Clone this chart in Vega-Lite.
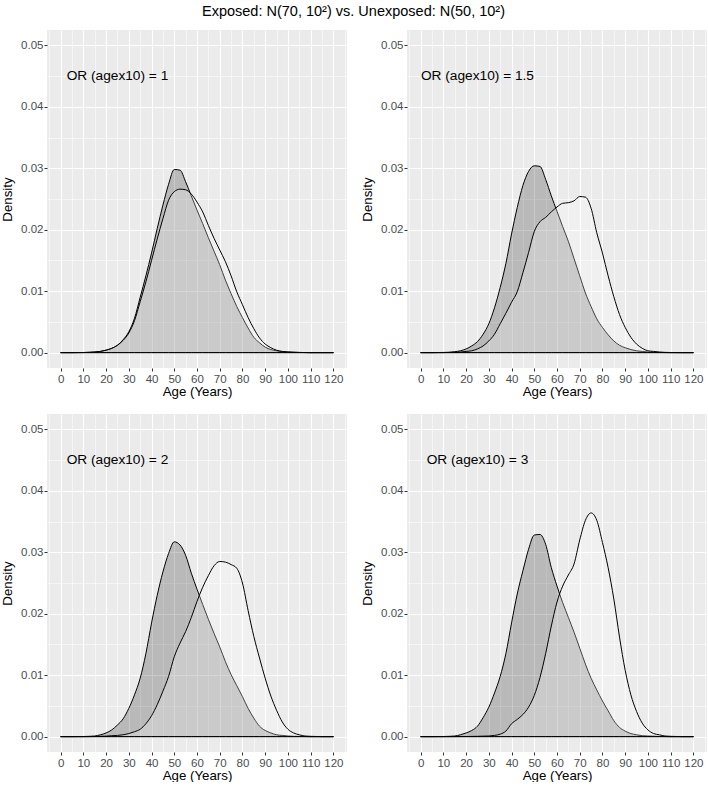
{
  "$schema": "https://vega.github.io/schema/vega-lite/v6.json",
  "padding": {"left": 0, "top": 3, "right": 0, "bottom": 0},
  "background": "white",
  "title": {"text": "Exposed: N(70, 10²) vs. Unexposed: N(50, 10²)", "font": "Liberation Sans", "fontSize": 14.5, "fontWeight": "normal", "color": "black", "anchor": "start", "frame": "group", "dx": 155, "offset": 11},
  "data": {"values": [
    {"p":1,"g":"L","lbl":"OR (agex10) = 1"},
    {"p":1.5,"g":"L","lbl":"OR (agex10) = 1.5"},
    {"p":2,"g":"L","lbl":"OR (agex10) = 2"},
    {"p":3,"g":"L","lbl":"OR (agex10) = 3"},

    {"p":1,"g":"U","a":0,"d":0},{"p":1,"g":"U","a":5,"d":0},{"p":1,"g":"U","a":10,"d":0.00002},{"p":1,"g":"U","a":12.5,"d":0.00005},{"p":1,"g":"U","a":15,"d":0.0001},{"p":1,"g":"U","a":17.5,"d":0.0002},{"p":1,"g":"U","a":20,"d":0.0004},{"p":1,"g":"U","a":22.5,"d":0.0007},{"p":1,"g":"U","a":25,"d":0.0012},{"p":1,"g":"U","a":27.5,"d":0.0021},{"p":1,"g":"U","a":30,"d":0.0034},{"p":1,"g":"U","a":32.5,"d":0.0056},{"p":1,"g":"U","a":35,"d":0.009},{"p":1,"g":"U","a":37.5,"d":0.0125},{"p":1,"g":"U","a":40,"d":0.0162},{"p":1,"g":"U","a":42.5,"d":0.0202},{"p":1,"g":"U","a":45,"d":0.024},{"p":1,"g":"U","a":47.5,"d":0.0274},{"p":1,"g":"U","a":50,"d":0.0298},{"p":1,"g":"U","a":52.5,"d":0.0297},{"p":1,"g":"U","a":55,"d":0.0278},{"p":1,"g":"U","a":57.5,"d":0.0255},{"p":1,"g":"U","a":60,"d":0.0232},{"p":1,"g":"U","a":62.5,"d":0.021},{"p":1,"g":"U","a":65,"d":0.0187},{"p":1,"g":"U","a":67.5,"d":0.0165},{"p":1,"g":"U","a":70,"d":0.0143},{"p":1,"g":"U","a":72.5,"d":0.0118},{"p":1,"g":"U","a":75,"d":0.0096},{"p":1,"g":"U","a":77.5,"d":0.0075},{"p":1,"g":"U","a":80,"d":0.0057},{"p":1,"g":"U","a":82.5,"d":0.004},{"p":1,"g":"U","a":85,"d":0.0025},{"p":1,"g":"U","a":87.5,"d":0.0016},{"p":1,"g":"U","a":90,"d":0.0009},{"p":1,"g":"U","a":92.5,"d":0.0005},{"p":1,"g":"U","a":95,"d":0.0003},{"p":1,"g":"U","a":97.5,"d":0.00015},{"p":1,"g":"U","a":100,"d":0.0001},{"p":1,"g":"U","a":105,"d":0.00003},{"p":1,"g":"U","a":110,"d":0},{"p":1,"g":"U","a":115,"d":0},{"p":1,"g":"U","a":120,"d":0},

    {"p":1,"g":"E","a":0,"d":0},{"p":1,"g":"E","a":5,"d":0},{"p":1,"g":"E","a":10,"d":0.00002},{"p":1,"g":"E","a":12.5,"d":0.00005},{"p":1,"g":"E","a":15,"d":0.0001},{"p":1,"g":"E","a":17.5,"d":0.0002},{"p":1,"g":"E","a":20,"d":0.0004},{"p":1,"g":"E","a":22.5,"d":0.0007},{"p":1,"g":"E","a":25,"d":0.0012},{"p":1,"g":"E","a":27.5,"d":0.002},{"p":1,"g":"E","a":30,"d":0.0032},{"p":1,"g":"E","a":32.5,"d":0.0052},{"p":1,"g":"E","a":35,"d":0.0083},{"p":1,"g":"E","a":37.5,"d":0.0115},{"p":1,"g":"E","a":40,"d":0.015},{"p":1,"g":"E","a":42.5,"d":0.0185},{"p":1,"g":"E","a":45,"d":0.0218},{"p":1,"g":"E","a":47.5,"d":0.0248},{"p":1,"g":"E","a":50,"d":0.0262},{"p":1,"g":"E","a":52.5,"d":0.0266},{"p":1,"g":"E","a":55,"d":0.0265},{"p":1,"g":"E","a":57.5,"d":0.0258},{"p":1,"g":"E","a":60,"d":0.0245},{"p":1,"g":"E","a":62.5,"d":0.0229},{"p":1,"g":"E","a":65,"d":0.0207},{"p":1,"g":"E","a":67.5,"d":0.0186},{"p":1,"g":"E","a":70,"d":0.0167},{"p":1,"g":"E","a":72.5,"d":0.0148},{"p":1,"g":"E","a":75,"d":0.0125},{"p":1,"g":"E","a":77.5,"d":0.0099},{"p":1,"g":"E","a":80,"d":0.0078},{"p":1,"g":"E","a":82.5,"d":0.0057},{"p":1,"g":"E","a":85,"d":0.0039},{"p":1,"g":"E","a":87.5,"d":0.0024},{"p":1,"g":"E","a":90,"d":0.0014},{"p":1,"g":"E","a":92.5,"d":0.0008},{"p":1,"g":"E","a":95,"d":0.0004},{"p":1,"g":"E","a":97.5,"d":0.0002},{"p":1,"g":"E","a":100,"d":0.0001},{"p":1,"g":"E","a":105,"d":0.00003},{"p":1,"g":"E","a":110,"d":0},{"p":1,"g":"E","a":115,"d":0},{"p":1,"g":"E","a":120,"d":0},

    {"p":1.5,"g":"U","a":0,"d":0},{"p":1.5,"g":"U","a":5,"d":0},{"p":1.5,"g":"U","a":10,"d":0.00003},{"p":1.5,"g":"U","a":12.5,"d":0.00006},{"p":1.5,"g":"U","a":15,"d":0.00015},{"p":1.5,"g":"U","a":17.5,"d":0.0003},{"p":1.5,"g":"U","a":20,"d":0.0006},{"p":1.5,"g":"U","a":22.5,"d":0.0011},{"p":1.5,"g":"U","a":25,"d":0.0018},{"p":1.5,"g":"U","a":27.5,"d":0.003},{"p":1.5,"g":"U","a":30,"d":0.0047},{"p":1.5,"g":"U","a":32.5,"d":0.0073},{"p":1.5,"g":"U","a":35,"d":0.0106},{"p":1.5,"g":"U","a":37.5,"d":0.0145},{"p":1.5,"g":"U","a":40,"d":0.0193},{"p":1.5,"g":"U","a":42.5,"d":0.0236},{"p":1.5,"g":"U","a":45,"d":0.0272},{"p":1.5,"g":"U","a":47.5,"d":0.0295},{"p":1.5,"g":"U","a":50,"d":0.0304},{"p":1.5,"g":"U","a":52.5,"d":0.0303},{"p":1.5,"g":"U","a":55,"d":0.0282},{"p":1.5,"g":"U","a":57.5,"d":0.0255},{"p":1.5,"g":"U","a":60,"d":0.023},{"p":1.5,"g":"U","a":62.5,"d":0.0205},{"p":1.5,"g":"U","a":65,"d":0.0181},{"p":1.5,"g":"U","a":67.5,"d":0.0153},{"p":1.5,"g":"U","a":70,"d":0.0125},{"p":1.5,"g":"U","a":72.5,"d":0.0097},{"p":1.5,"g":"U","a":75,"d":0.0075},{"p":1.5,"g":"U","a":77.5,"d":0.0055},{"p":1.5,"g":"U","a":80,"d":0.0041},{"p":1.5,"g":"U","a":82.5,"d":0.0029},{"p":1.5,"g":"U","a":85,"d":0.0019},{"p":1.5,"g":"U","a":87.5,"d":0.0012},{"p":1.5,"g":"U","a":90,"d":0.0008},{"p":1.5,"g":"U","a":92.5,"d":0.0005},{"p":1.5,"g":"U","a":95,"d":0.0003},{"p":1.5,"g":"U","a":97.5,"d":0.0002},{"p":1.5,"g":"U","a":100,"d":0.0001},{"p":1.5,"g":"U","a":105,"d":0.00003},{"p":1.5,"g":"U","a":110,"d":0},{"p":1.5,"g":"U","a":115,"d":0},{"p":1.5,"g":"U","a":120,"d":0},

    {"p":1.5,"g":"E","a":0,"d":0},{"p":1.5,"g":"E","a":5,"d":0},{"p":1.5,"g":"E","a":10,"d":0.00001},{"p":1.5,"g":"E","a":15,"d":0.00005},{"p":1.5,"g":"E","a":17.5,"d":0.0001},{"p":1.5,"g":"E","a":20,"d":0.0002},{"p":1.5,"g":"E","a":22.5,"d":0.0003},{"p":1.5,"g":"E","a":25,"d":0.0006},{"p":1.5,"g":"E","a":27.5,"d":0.0011},{"p":1.5,"g":"E","a":30,"d":0.0019},{"p":1.5,"g":"E","a":32.5,"d":0.003},{"p":1.5,"g":"E","a":35,"d":0.0047},{"p":1.5,"g":"E","a":37.5,"d":0.0064},{"p":1.5,"g":"E","a":40,"d":0.0082},{"p":1.5,"g":"E","a":42.5,"d":0.0099},{"p":1.5,"g":"E","a":45,"d":0.013},{"p":1.5,"g":"E","a":47.5,"d":0.0163},{"p":1.5,"g":"E","a":50,"d":0.0197},{"p":1.5,"g":"E","a":52.5,"d":0.0213},{"p":1.5,"g":"E","a":55,"d":0.022},{"p":1.5,"g":"E","a":57.5,"d":0.0229},{"p":1.5,"g":"E","a":60,"d":0.0237},{"p":1.5,"g":"E","a":62.5,"d":0.0243},{"p":1.5,"g":"E","a":65,"d":0.0244},{"p":1.5,"g":"E","a":67.5,"d":0.0247},{"p":1.5,"g":"E","a":70,"d":0.0254},{"p":1.5,"g":"E","a":72.5,"d":0.0253},{"p":1.5,"g":"E","a":75,"d":0.0235},{"p":1.5,"g":"E","a":77.5,"d":0.0195},{"p":1.5,"g":"E","a":80,"d":0.0162},{"p":1.5,"g":"E","a":82.5,"d":0.0125},{"p":1.5,"g":"E","a":85,"d":0.0091},{"p":1.5,"g":"E","a":87.5,"d":0.0062},{"p":1.5,"g":"E","a":90,"d":0.0041},{"p":1.5,"g":"E","a":92.5,"d":0.0025},{"p":1.5,"g":"E","a":95,"d":0.0014},{"p":1.5,"g":"E","a":97.5,"d":0.0007},{"p":1.5,"g":"E","a":100,"d":0.0003},{"p":1.5,"g":"E","a":102.5,"d":0.0002},{"p":1.5,"g":"E","a":105,"d":0.0001},{"p":1.5,"g":"E","a":110,"d":0.00002},{"p":1.5,"g":"E","a":115,"d":0},{"p":1.5,"g":"E","a":120,"d":0},

    {"p":2,"g":"U","a":0,"d":0},{"p":2,"g":"U","a":5,"d":0},{"p":2,"g":"U","a":10,"d":0.00002},{"p":2,"g":"U","a":12.5,"d":0.00005},{"p":2,"g":"U","a":15,"d":0.0001},{"p":2,"g":"U","a":17.5,"d":0.0003},{"p":2,"g":"U","a":20,"d":0.0006},{"p":2,"g":"U","a":22.5,"d":0.0011},{"p":2,"g":"U","a":25,"d":0.0019},{"p":2,"g":"U","a":27.5,"d":0.0029},{"p":2,"g":"U","a":30,"d":0.0046},{"p":2,"g":"U","a":32.5,"d":0.0068},{"p":2,"g":"U","a":35,"d":0.0095},{"p":2,"g":"U","a":37.5,"d":0.0135},{"p":2,"g":"U","a":40,"d":0.0185},{"p":2,"g":"U","a":42.5,"d":0.023},{"p":2,"g":"U","a":45,"d":0.0268},{"p":2,"g":"U","a":47.5,"d":0.0298},{"p":2,"g":"U","a":50,"d":0.0317},{"p":2,"g":"U","a":52.5,"d":0.0312},{"p":2,"g":"U","a":55,"d":0.0295},{"p":2,"g":"U","a":57.5,"d":0.0266},{"p":2,"g":"U","a":60,"d":0.024},{"p":2,"g":"U","a":62.5,"d":0.0215},{"p":2,"g":"U","a":65,"d":0.0191},{"p":2,"g":"U","a":67.5,"d":0.0168},{"p":2,"g":"U","a":70,"d":0.0146},{"p":2,"g":"U","a":72.5,"d":0.0122},{"p":2,"g":"U","a":75,"d":0.0101},{"p":2,"g":"U","a":77.5,"d":0.0083},{"p":2,"g":"U","a":80,"d":0.0065},{"p":2,"g":"U","a":82.5,"d":0.0046},{"p":2,"g":"U","a":85,"d":0.003},{"p":2,"g":"U","a":87.5,"d":0.0017},{"p":2,"g":"U","a":90,"d":0.001},{"p":2,"g":"U","a":92.5,"d":0.0006},{"p":2,"g":"U","a":95,"d":0.0003},{"p":2,"g":"U","a":97.5,"d":0.0002},{"p":2,"g":"U","a":100,"d":0.0001},{"p":2,"g":"U","a":105,"d":0.00003},{"p":2,"g":"U","a":110,"d":0},{"p":2,"g":"U","a":115,"d":0},{"p":2,"g":"U","a":120,"d":0},

    {"p":2,"g":"E","a":0,"d":0},{"p":2,"g":"E","a":5,"d":0},{"p":2,"g":"E","a":10,"d":0},{"p":2,"g":"E","a":15,"d":0.00002},{"p":2,"g":"E","a":20,"d":0.00008},{"p":2,"g":"E","a":22.5,"d":0.00015},{"p":2,"g":"E","a":25,"d":0.0002},{"p":2,"g":"E","a":27.5,"d":0.0003},{"p":2,"g":"E","a":30,"d":0.0005},{"p":2,"g":"E","a":32.5,"d":0.0008},{"p":2,"g":"E","a":35,"d":0.0012},{"p":2,"g":"E","a":37.5,"d":0.0021},{"p":2,"g":"E","a":40,"d":0.0034},{"p":2,"g":"E","a":42.5,"d":0.0052},{"p":2,"g":"E","a":45,"d":0.0074},{"p":2,"g":"E","a":47.5,"d":0.0098},{"p":2,"g":"E","a":50,"d":0.013},{"p":2,"g":"E","a":52.5,"d":0.0152},{"p":2,"g":"E","a":55,"d":0.0171},{"p":2,"g":"E","a":57.5,"d":0.0194},{"p":2,"g":"E","a":60,"d":0.022},{"p":2,"g":"E","a":62.5,"d":0.0243},{"p":2,"g":"E","a":65,"d":0.0262},{"p":2,"g":"E","a":67.5,"d":0.0278},{"p":2,"g":"E","a":70,"d":0.0285},{"p":2,"g":"E","a":72.5,"d":0.0284},{"p":2,"g":"E","a":75,"d":0.028},{"p":2,"g":"E","a":77.5,"d":0.0274},{"p":2,"g":"E","a":80,"d":0.025},{"p":2,"g":"E","a":82.5,"d":0.0205},{"p":2,"g":"E","a":85,"d":0.0163},{"p":2,"g":"E","a":87.5,"d":0.0128},{"p":2,"g":"E","a":90,"d":0.0095},{"p":2,"g":"E","a":92.5,"d":0.0066},{"p":2,"g":"E","a":95,"d":0.0043},{"p":2,"g":"E","a":97.5,"d":0.0024},{"p":2,"g":"E","a":100,"d":0.0012},{"p":2,"g":"E","a":102.5,"d":0.0006},{"p":2,"g":"E","a":105,"d":0.0003},{"p":2,"g":"E","a":107.5,"d":0.0001},{"p":2,"g":"E","a":110,"d":0.00005},{"p":2,"g":"E","a":115,"d":0},{"p":2,"g":"E","a":120,"d":0},

    {"p":3,"g":"U","a":0,"d":0},{"p":3,"g":"U","a":5,"d":0},{"p":3,"g":"U","a":10,"d":0.00002},{"p":3,"g":"U","a":12.5,"d":0.00005},{"p":3,"g":"U","a":15,"d":0.0001},{"p":3,"g":"U","a":17.5,"d":0.0003},{"p":3,"g":"U","a":20,"d":0.0006},{"p":3,"g":"U","a":22.5,"d":0.001},{"p":3,"g":"U","a":25,"d":0.0017},{"p":3,"g":"U","a":27.5,"d":0.0031},{"p":3,"g":"U","a":30,"d":0.0048},{"p":3,"g":"U","a":32.5,"d":0.0071},{"p":3,"g":"U","a":35,"d":0.0098},{"p":3,"g":"U","a":37.5,"d":0.0135},{"p":3,"g":"U","a":40,"d":0.0185},{"p":3,"g":"U","a":42.5,"d":0.0232},{"p":3,"g":"U","a":45,"d":0.027},{"p":3,"g":"U","a":47.5,"d":0.0305},{"p":3,"g":"U","a":50,"d":0.0328},{"p":3,"g":"U","a":52.5,"d":0.0329},{"p":3,"g":"U","a":55,"d":0.0313},{"p":3,"g":"U","a":57.5,"d":0.0275},{"p":3,"g":"U","a":60,"d":0.0245},{"p":3,"g":"U","a":62.5,"d":0.0218},{"p":3,"g":"U","a":65,"d":0.0194},{"p":3,"g":"U","a":67.5,"d":0.017},{"p":3,"g":"U","a":70,"d":0.0144},{"p":3,"g":"U","a":72.5,"d":0.0118},{"p":3,"g":"U","a":75,"d":0.0095},{"p":3,"g":"U","a":77.5,"d":0.0076},{"p":3,"g":"U","a":80,"d":0.0058},{"p":3,"g":"U","a":82.5,"d":0.0042},{"p":3,"g":"U","a":85,"d":0.0026},{"p":3,"g":"U","a":87.5,"d":0.0015},{"p":3,"g":"U","a":90,"d":0.0009},{"p":3,"g":"U","a":92.5,"d":0.0005},{"p":3,"g":"U","a":95,"d":0.0003},{"p":3,"g":"U","a":97.5,"d":0.00015},{"p":3,"g":"U","a":100,"d":0.0001},{"p":3,"g":"U","a":105,"d":0.00003},{"p":3,"g":"U","a":110,"d":0},{"p":3,"g":"U","a":115,"d":0},{"p":3,"g":"U","a":120,"d":0},

    {"p":3,"g":"E","a":0,"d":0},{"p":3,"g":"E","a":5,"d":0},{"p":3,"g":"E","a":10,"d":0},{"p":3,"g":"E","a":20,"d":0.00002},{"p":3,"g":"E","a":25,"d":0.00005},{"p":3,"g":"E","a":27.5,"d":0.00008},{"p":3,"g":"E","a":30,"d":0.0001},{"p":3,"g":"E","a":32.5,"d":0.0002},{"p":3,"g":"E","a":35,"d":0.0004},{"p":3,"g":"E","a":37.5,"d":0.0009},{"p":3,"g":"E","a":40,"d":0.0021},{"p":3,"g":"E","a":42.5,"d":0.0028},{"p":3,"g":"E","a":45,"d":0.0036},{"p":3,"g":"E","a":47.5,"d":0.0048},{"p":3,"g":"E","a":50,"d":0.0067},{"p":3,"g":"E","a":52.5,"d":0.0096},{"p":3,"g":"E","a":55,"d":0.0135},{"p":3,"g":"E","a":57.5,"d":0.018},{"p":3,"g":"E","a":60,"d":0.0219},{"p":3,"g":"E","a":62.5,"d":0.0245},{"p":3,"g":"E","a":65,"d":0.0263},{"p":3,"g":"E","a":67.5,"d":0.0281},{"p":3,"g":"E","a":70,"d":0.032},{"p":3,"g":"E","a":72.5,"d":0.0352},{"p":3,"g":"E","a":75,"d":0.0364},{"p":3,"g":"E","a":77.5,"d":0.0352},{"p":3,"g":"E","a":80,"d":0.0316},{"p":3,"g":"E","a":82.5,"d":0.0275},{"p":3,"g":"E","a":85,"d":0.0224},{"p":3,"g":"E","a":87.5,"d":0.0162},{"p":3,"g":"E","a":90,"d":0.0108},{"p":3,"g":"E","a":92.5,"d":0.0068},{"p":3,"g":"E","a":95,"d":0.0041},{"p":3,"g":"E","a":97.5,"d":0.0022},{"p":3,"g":"E","a":100,"d":0.0011},{"p":3,"g":"E","a":102.5,"d":0.0005},{"p":3,"g":"E","a":105,"d":0.0003},{"p":3,"g":"E","a":107.5,"d":0.0001},{"p":3,"g":"E","a":110,"d":0.00005},{"p":3,"g":"E","a":115,"d":0},{"p":3,"g":"E","a":120,"d":0}
  ]},
  "spacing": 16,
  "vconcat": [
    {"spacing": 13, "hconcat": [
      {"width": 300, "height": 338, "transform": [{"filter": "datum.p === 1"}],
       "resolve": {"axis": {"x": "independent", "y": "independent"}},
       "layer": [
         {"transform": [{"filter": "datum.g === 'U'"}], "mark": {"type": "area", "interpolate": "monotone", "fill": "black", "fillOpacity": 0.21, "stroke": "black", "strokeWidth": 1},
          "encoding": {
            "x": {"field": "a", "type": "quantitative", "scale": {"domain": [-6, 126], "nice": false, "zero": false}, "axis": {"orient": "bottom", "title": "Age (Years)", "values": [0,10,20,30,40,50,60,70,80,90,100,110,120], "format": "d"}},
            "y": {"field": "d", "type": "quantitative", "scale": {"domain": [-0.0025, 0.0525], "nice": false, "zero": false}, "axis": {"orient": "left", "title": "Density", "values": [0,0.01,0.02,0.03,0.04,0.05], "format": ".2f"}},
            "y2": {"datum": 0}}},
         {"transform": [{"filter": "datum.g === 'E'"}], "mark": {"type": "area", "interpolate": "monotone", "fill": "white", "fillOpacity": 0.25, "stroke": "black", "strokeWidth": 1},
          "encoding": {"x": {"field": "a", "type": "quantitative", "axis": null}, "y": {"field": "d", "type": "quantitative", "axis": null}, "y2": {"datum": 0}}},
         {"transform": [{"filter": "datum.g === 'L'"}], "mark": {"type": "text", "font": "Liberation Sans", "fontSize": 13.7, "color": "black", "align": "center", "baseline": "middle"},
          "encoding": {
            "x": {"datum": 25, "type": "quantitative", "axis": {"orient": "bottom", "values": [-5,5,15,25,35,45,55,65,75,85,95,105,115,125], "labels": false, "ticks": false, "domain": false, "title": null, "grid": true, "gridWidth": 0.55}},
            "y": {"datum": 0.045, "type": "quantitative", "axis": {"orient": "left", "values": [0.005,0.015,0.025,0.035,0.045], "labels": false, "ticks": false, "domain": false, "title": null, "grid": true, "gridWidth": 0.55}},
            "text": {"field": "lbl"}}}
       ]},
      {"width": 300, "height": 338, "transform": [{"filter": "datum.p === 1.5"}],
       "resolve": {"axis": {"x": "independent", "y": "independent"}},
       "layer": [
         {"transform": [{"filter": "datum.g === 'U'"}], "mark": {"type": "area", "interpolate": "monotone", "fill": "black", "fillOpacity": 0.21, "stroke": "black", "strokeWidth": 1},
          "encoding": {
            "x": {"field": "a", "type": "quantitative", "scale": {"domain": [-6, 126], "nice": false, "zero": false}, "axis": {"orient": "bottom", "title": "Age (Years)", "values": [0,10,20,30,40,50,60,70,80,90,100,110,120], "format": "d"}},
            "y": {"field": "d", "type": "quantitative", "scale": {"domain": [-0.0025, 0.0525], "nice": false, "zero": false}, "axis": {"orient": "left", "title": "Density", "values": [0,0.01,0.02,0.03,0.04,0.05], "format": ".2f"}},
            "y2": {"datum": 0}}},
         {"transform": [{"filter": "datum.g === 'E'"}], "mark": {"type": "area", "interpolate": "monotone", "fill": "white", "fillOpacity": 0.25, "stroke": "black", "strokeWidth": 1},
          "encoding": {"x": {"field": "a", "type": "quantitative", "axis": null}, "y": {"field": "d", "type": "quantitative", "axis": null}, "y2": {"datum": 0}}},
         {"transform": [{"filter": "datum.g === 'L'"}], "mark": {"type": "text", "font": "Liberation Sans", "fontSize": 13.7, "color": "black", "align": "center", "baseline": "middle"},
          "encoding": {
            "x": {"datum": 25, "type": "quantitative", "axis": {"orient": "bottom", "values": [-5,5,15,25,35,45,55,65,75,85,95,105,115,125], "labels": false, "ticks": false, "domain": false, "title": null, "grid": true, "gridWidth": 0.55}},
            "y": {"datum": 0.045, "type": "quantitative", "axis": {"orient": "left", "values": [0.005,0.015,0.025,0.035,0.045], "labels": false, "ticks": false, "domain": false, "title": null, "grid": true, "gridWidth": 0.55}},
            "text": {"field": "lbl"}}}
       ]}
    ]},
    {"spacing": 13, "hconcat": [
      {"width": 300, "height": 338, "transform": [{"filter": "datum.p === 2"}],
       "resolve": {"axis": {"x": "independent", "y": "independent"}},
       "layer": [
         {"transform": [{"filter": "datum.g === 'U'"}], "mark": {"type": "area", "interpolate": "monotone", "fill": "black", "fillOpacity": 0.21, "stroke": "black", "strokeWidth": 1},
          "encoding": {
            "x": {"field": "a", "type": "quantitative", "scale": {"domain": [-6, 126], "nice": false, "zero": false}, "axis": {"orient": "bottom", "title": "Age (Years)", "values": [0,10,20,30,40,50,60,70,80,90,100,110,120], "format": "d"}},
            "y": {"field": "d", "type": "quantitative", "scale": {"domain": [-0.0025, 0.0525], "nice": false, "zero": false}, "axis": {"orient": "left", "title": "Density", "values": [0,0.01,0.02,0.03,0.04,0.05], "format": ".2f"}},
            "y2": {"datum": 0}}},
         {"transform": [{"filter": "datum.g === 'E'"}], "mark": {"type": "area", "interpolate": "monotone", "fill": "white", "fillOpacity": 0.25, "stroke": "black", "strokeWidth": 1},
          "encoding": {"x": {"field": "a", "type": "quantitative", "axis": null}, "y": {"field": "d", "type": "quantitative", "axis": null}, "y2": {"datum": 0}}},
         {"transform": [{"filter": "datum.g === 'L'"}], "mark": {"type": "text", "font": "Liberation Sans", "fontSize": 13.7, "color": "black", "align": "center", "baseline": "middle"},
          "encoding": {
            "x": {"datum": 25, "type": "quantitative", "axis": {"orient": "bottom", "values": [-5,5,15,25,35,45,55,65,75,85,95,105,115,125], "labels": false, "ticks": false, "domain": false, "title": null, "grid": true, "gridWidth": 0.55}},
            "y": {"datum": 0.045, "type": "quantitative", "axis": {"orient": "left", "values": [0.005,0.015,0.025,0.035,0.045], "labels": false, "ticks": false, "domain": false, "title": null, "grid": true, "gridWidth": 0.55}},
            "text": {"field": "lbl"}}}
       ]},
      {"width": 300, "height": 338, "transform": [{"filter": "datum.p === 3"}],
       "resolve": {"axis": {"x": "independent", "y": "independent"}},
       "layer": [
         {"transform": [{"filter": "datum.g === 'U'"}], "mark": {"type": "area", "interpolate": "monotone", "fill": "black", "fillOpacity": 0.21, "stroke": "black", "strokeWidth": 1},
          "encoding": {
            "x": {"field": "a", "type": "quantitative", "scale": {"domain": [-6, 126], "nice": false, "zero": false}, "axis": {"orient": "bottom", "title": "Age (Years)", "values": [0,10,20,30,40,50,60,70,80,90,100,110,120], "format": "d"}},
            "y": {"field": "d", "type": "quantitative", "scale": {"domain": [-0.0025, 0.0525], "nice": false, "zero": false}, "axis": {"orient": "left", "title": "Density", "values": [0,0.01,0.02,0.03,0.04,0.05], "format": ".2f"}},
            "y2": {"datum": 0}}},
         {"transform": [{"filter": "datum.g === 'E'"}], "mark": {"type": "area", "interpolate": "monotone", "fill": "white", "fillOpacity": 0.25, "stroke": "black", "strokeWidth": 1},
          "encoding": {"x": {"field": "a", "type": "quantitative", "axis": null}, "y": {"field": "d", "type": "quantitative", "axis": null}, "y2": {"datum": 0}}},
         {"transform": [{"filter": "datum.g === 'L'"}], "mark": {"type": "text", "font": "Liberation Sans", "fontSize": 13.7, "color": "black", "align": "center", "baseline": "middle"},
          "encoding": {
            "x": {"datum": 25, "type": "quantitative", "axis": {"orient": "bottom", "values": [-5,5,15,25,35,45,55,65,75,85,95,105,115,125], "labels": false, "ticks": false, "domain": false, "title": null, "grid": true, "gridWidth": 0.55}},
            "y": {"datum": 0.045, "type": "quantitative", "axis": {"orient": "left", "values": [0.005,0.015,0.025,0.035,0.045], "labels": false, "ticks": false, "domain": false, "title": null, "grid": true, "gridWidth": 0.55}},
            "text": {"field": "lbl"}}}
       ]}
    ]}
  ],
  "config": {
    "font": "Liberation Sans",
    "view": {"fill": "#EBEBEB", "stroke": null},
    "axis": {"domain": false, "grid": true, "gridColor": "white", "gridWidth": 1.1, "labelFont": "Liberation Sans", "labelFontSize": 11.5, "labelColor": "#4D4D4D", "titleFont": "Liberation Sans", "titleFontSize": 13.3, "titleFontWeight": "normal", "titleColor": "black", "tickSize": 3, "tickWidth": 1, "tickColor": "#333333"},
    "axisX": {"labelPadding": 2, "titlePadding": 0},
    "axisY": {"labelPadding": 1, "titlePadding": 6}
  }
}
